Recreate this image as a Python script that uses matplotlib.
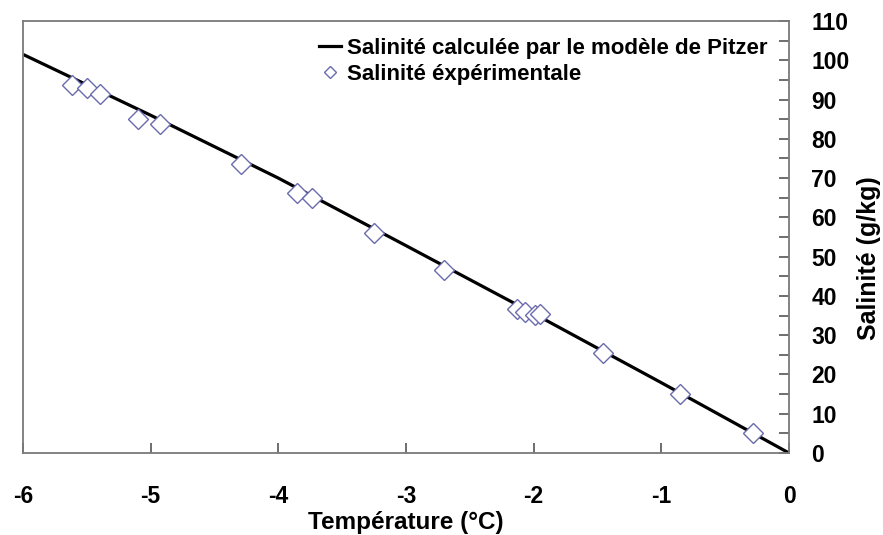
import matplotlib
matplotlib.use("Agg")
import matplotlib.pyplot as plt
from matplotlib.lines import Line2D
from matplotlib.ticker import MultipleLocator

plt.rcParams['font.family'] = ['Liberation Sans', 'DejaVu Sans']
plt.rcParams['axes.unicode_minus'] = False

# Pitzer model curve: temperature (°C) vs salinity (g/kg)
model_temp = [-6, -5, -4, -3, -2, -1, 0]
model_sal = [101.5, 86.0, 70.0, 52.8, 35.5, 17.9, 0.0]

# Experimental measurements
exp_temp = [-5.62, -5.50, -5.40, -5.10, -4.93, -4.29, -3.85, -3.74, -3.25,
            -2.70, -2.13, -2.07, -1.99, -1.95, -1.46, -0.85, -0.28]
exp_sal = [93.6, 92.9, 91.3, 85.0, 83.7, 73.5, 66.2, 64.9, 56.1,
           46.6, 36.6, 35.9, 35.1, 35.4, 25.4, 15.0, 5.1]

xticks = [-6, -5, -4, -3, -2, -1, 0]
yticks = list(range(0, 111, 10))

fig = plt.figure(figsize=(8.83, 5.35), dpi=100)
ax = fig.add_axes([23 / 883, 1 - 453 / 535, (789 - 23) / 883, (453 - 21) / 535])

ax.plot(model_temp, model_sal, color='black', lw=2.3, solid_capstyle='butt', zorder=2)
ax.plot(exp_temp, exp_sal, linestyle='none', marker='D', ms=9.8,
        mfc='white', mec='#6a6aae', mew=1.0, zorder=3)

ax.set_xlim(-6, 0)
ax.set_ylim(0, 110)
ax.set_xticks(xticks)
ax.set_yticks(yticks)
ax.yaxis.set_minor_locator(MultipleLocator(5))

ax.yaxis.tick_right()
ax.yaxis.set_label_position('right')

for s in ax.spines.values():
    s.set_color('#7a7a7a')
    s.set_linewidth(1.3)

ax.tick_params(axis='x', direction='in', length=7, width=1.2, color='#555555',
               pad=23, labelsize=16.5)
ax.tick_params(axis='y', which='both', direction='in', length=7, width=1.2,
               color='#555555', pad=16, labelsize=16.5)
for lab in ax.get_xticklabels() + ax.get_yticklabels():
    lab.set_fontweight('bold')

ax.set_xlabel('Température (°C)', fontsize=17.5, fontweight='bold', labelpad=2)
ax.set_ylabel('Salinité (g/kg)', fontsize=18, fontweight='bold')
ax.yaxis.set_label_coords((857 - 23) / 766, (453 - 258) / 432)

handles = [
    Line2D([], [], color='black', lw=2.3),
    Line2D([], [], linestyle='none', marker='D', ms=6.0, mfc='white',
           mec='#6a6aae', mew=1.0),
]
labels = ['Salinité calculée par le modèle de Pitzer', 'Salinité éxpérimentale']
leg = ax.legend(handles, labels, loc='upper left',
                bbox_to_anchor=(319 / 883, 1 - 38 / 535),
                bbox_transform=fig.transFigure, frameon=False,
                handlelength=1.0, handletextpad=0.28, borderpad=0,
                borderaxespad=0, labelspacing=0.22,
                prop={'size': 16, 'weight': 'bold'})

fig.savefig('out.png', dpi=100)
